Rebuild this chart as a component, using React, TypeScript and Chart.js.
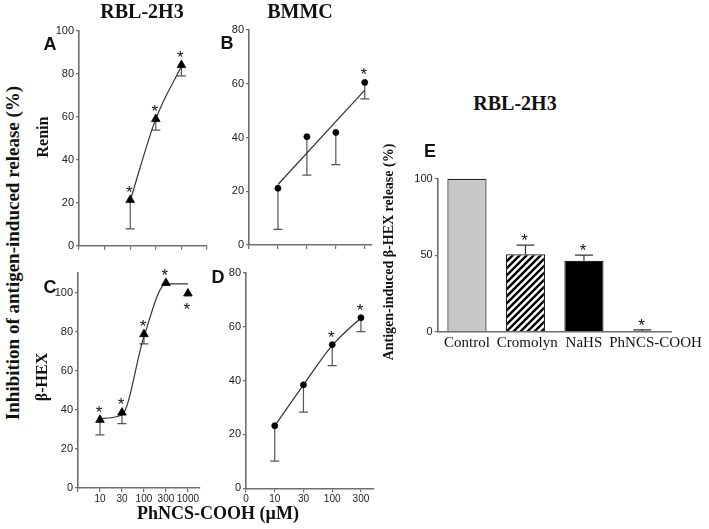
import React, { useEffect, useRef } from 'react';
import { Chart, registerables } from 'chart.js';
Chart.register(...registerables);

// ---- Panel A (RBL-2H3, Renin). x index: 1=10, 2=30, 3=100, 4=300, 5=1000 µM
const aX = [2, 3, 4];
const aY = [21.3, 58.9, 84.0];
const aErr = [13.5, 5.1, 5.0];
const aStar = ['above', 'above', 'above'];
const aFitX = [2, 3, 4];
const aFitY = [21.0, 59.0, 83.5];

// ---- Panel B (BMMC, Renin). x index: 1=10, 2=30, 3=100, 4=300 µM
const bX = [1, 2, 3, 4];
const bY = [21.1, 40.3, 41.9, 60.5];
const bErr = [15.3, 14.3, 12.0, 6.1];
const bStar = ['', '', '', 'above'];
const bFitX = [1, 4];
const bFitY = [22.5, 57.6];

// ---- Panel C (RBL-2H3, β-HEX)
const cX = [1, 2, 3, 4, 5];
const cY = [34.9, 38.6, 78.8, 105.0, 99.6];
const cErr = [7.7, 5.6, 5.0, 0, 0];
const cStar = ['above', 'above', 'above', 'above', 'below'];
const cFitX = [1, 2, 3, 4, 5];
const cFitY = [35.6, 37.5, 77.5, 104.5, 104.5];
const cTickLabels = ['', '10', '30', '100', '300', '1000'];

// ---- Panel D (BMMC, β-HEX)
const dX = [1, 2, 3, 4];
const dY = [23.2, 38.4, 53.3, 63.3];
const dErr = [13.1, 10.1, 7.8, 5.2];
const dStar = ['', '', 'above', 'above'];
const dFitX = [1, 2, 3, 4];
const dFitY = [23.2, 38.4, 53.0, 63.3];
const dTickLabels = ['0', '10', '30', '100', '300'];

// ---- Panel E (RBL-2H3, bars)
const eCategories = ['Control', 'Cromolyn', 'NaHS', 'PhNCS-COOH'];
const eValues = [100, 50.6, 46.4, 0.5];
const eErr = [0, 6.0, 3.7, 0.7];
const eStar = ['', 'above', 'above', 'above'];

const SANS = '"Liberation Sans", Arial, sans-serif';
const SERIF = '"Liberation Serif", "Times New Roman", serif';
const AXIS = '#6e6e6e';
const TICKTXT = '#222';

const errStarPlugin = {
  id: 'errStar',
  beforeDatasetsDraw(chart: any) { drawErr(chart, 'before'); },
  afterDatasetsDraw(chart: any) { drawErr(chart, 'after'); drawStars(chart); },
};

// category labels of panel E: centred under each bar, nudged right only if they would collide
const catLabelPlugin = {
  id: 'catLabels',
  afterDraw(chart: any) {
    const xs = chart.scales.x;
    const ctx = chart.ctx;
    ctx.save();
    ctx.font = '15px ' + SERIF;
    ctx.fillStyle = '#111';
    ctx.textAlign = 'left';
    ctx.textBaseline = 'top';
    let prevRight = -Infinity;
    (chart.data.labels as string[]).forEach((lab, i) => {
      const w = ctx.measureText(lab).width;
      let left = xs.getPixelForTick(i) - w / 2;
      if (left < prevRight + 7) left = prevRight + 7;
      ctx.fillText(lab, left, xs.top + 4);
      prevRight = left + w;
    });
    ctx.restore();
  },
};

function valOf(d: any) { return typeof d === 'object' && d !== null ? d.y : d; }

function drawErr(chart: any, phase: string) {
  const ctx = chart.ctx;
  const ys = chart.scales.y;
  chart.data.datasets.forEach((ds: any, di: number) => {
    if (!ds.errors || (ds.errPhase || 'before') !== phase) return;
    const meta = chart.getDatasetMeta(di);
    ctx.save();
    ctx.strokeStyle = ds.errColor || '#555';
    ctx.lineWidth = 1.2;
    meta.data.forEach((el: any, i: number) => {
      const e = ds.errors[i];
      if (!e) return;
      const v = valOf(ds.data[i]);
      const end = ds.errDir === 'up' ? v + e : v - e;
      const y0 = ys.getPixelForValue(v);
      const y1 = ys.getPixelForValue(end);
      const x = el.x;
      const cap = ds.capHalf || 4.5;
      ctx.beginPath();
      ctx.moveTo(x, y0);
      ctx.lineTo(x, y1);
      ctx.moveTo(x - cap, y1);
      ctx.lineTo(x + cap, y1);
      ctx.stroke();
    });
    ctx.restore();
  });
}

function drawStars(chart: any) {
  const ctx = chart.ctx;
  const ys = chart.scales.y;
  chart.data.datasets.forEach((ds: any, di: number) => {
    if (!ds.stars) return;
    const meta = chart.getDatasetMeta(di);
    ctx.save();
    ctx.fillStyle = '#111';
    ctx.font = '17px ' + SANS;
    ctx.textAlign = 'center';
    ctx.textBaseline = 'alphabetic';
    meta.data.forEach((el: any, i: number) => {
      const s = ds.stars[i];
      if (!s) return;
      const v = valOf(ds.data[i]);
      let cy;
      if (ds.errDir === 'up') {
        const top = ys.getPixelForValue(v + (ds.errors[i] || 0));
        cy = top - (ds.starGap || 9);
      } else {
        const py = ys.getPixelForValue(v);
        cy = s === 'below' ? py + (ds.starGap || 12) : py - (ds.starGap || 12);
      }
      ctx.fillText('*', el.x - 1, cy + 17 * 0.58);
    });
    ctx.restore();
  });
}

type Rect = { left: number; top: number; width: number; height: number };
type Area = { l: number; t: number; r: number; b: number };

function geometry(rect: Rect, area: Area) {
  return {
    yw: area.l - rect.left,
    padTop: area.t - rect.top,
    padRight: rect.left + rect.width - area.r,
    xh: rect.top + rect.height - area.b,
  };
}

function lineConfig(opts: {
  rect: Rect; area: Area;
  xs: number[]; ys: number[]; errs: number[]; stars: string[];
  fitX: number[]; fitY: number[]; fitMode: string;
  xMax: number; xTicks: number[]; xLabels: string[];
  yMax: number; yTicks: number[]; marker: string; radius: number;
}) {
  const g = geometry(opts.rect, opts.area);
  return {
    type: 'line',
    data: {
      datasets: [
        {
          data: opts.xs.map((x, i) => ({ x, y: opts.ys[i] })),
          showLine: false,
          pointStyle: opts.marker,
          pointRadius: opts.radius,
          pointHoverRadius: opts.radius,
          pointBackgroundColor: '#000',
          pointBorderColor: '#000',
          pointBorderWidth: 0.8,
          errors: opts.errs,
          errDir: 'down',
          errPhase: 'before',
          stars: opts.stars,
          clip: false,
        },
        {
          data: opts.fitX.map((x, i) => ({ x, y: opts.fitY[i] })),
          borderColor: '#333',
          borderWidth: 1.2,
          pointRadius: 0,
          fill: false,
          tension: opts.fitMode === 'straight' ? 0 : 0.4,
          cubicInterpolationMode: opts.fitMode === 'straight' ? 'default' : 'monotone',
          clip: false,
        },
      ],
    },
    options: {
      animation: false,
      responsive: false,
      devicePixelRatio: 1,
      events: [],
      layout: { padding: { top: g.padTop, right: g.padRight, left: 0, bottom: 0 } },
      plugins: { legend: { display: false }, tooltip: { enabled: false } },
      scales: {
        x: {
          type: 'linear',
          min: 0,
          max: opts.xMax,
          afterBuildTicks: (s: any) => { s.ticks = opts.xTicks.map((v) => ({ value: v })); },
          afterFit: (s: any) => { s.height = g.xh; },
          grid: { display: true, drawOnChartArea: false, drawTicks: true, tickLength: 4, color: AXIS, lineWidth: 1.2 },
          border: { display: true, color: AXIS, width: 1.6 },
          ticks: {
            padding: 1,
            maxRotation: 0,
            autoSkip: false,
            color: TICKTXT,
            font: { family: SANS, size: 10 },
            callback: (v: any) => opts.xLabels[v] ?? '',
          },
        },
        y: {
          type: 'linear',
          min: 0,
          max: opts.yMax,
          afterBuildTicks: (s: any) => { s.ticks = opts.yTicks.map((v) => ({ value: v })); },
          afterFit: (s: any) => { s.width = g.yw; },
          grid: { display: true, drawOnChartArea: false, drawTicks: true, tickLength: 3, color: AXIS, lineWidth: 1.2 },
          border: { display: true, color: AXIS, width: 1.6 },
          ticks: { padding: 2, color: TICKTXT, font: { family: SANS, size: 11 } },
        },
      },
    },
    plugins: [errStarPlugin],
  };
}

function makeHatch() {
  const c = document.createElement('canvas');
  const n = 7;
  c.width = n;
  c.height = n;
  const x = c.getContext('2d')!;
  x.fillStyle = '#fff';
  x.fillRect(0, 0, n, n);
  x.strokeStyle = '#000';
  x.lineWidth = 2.4;
  x.beginPath();
  x.moveTo(-1, n + 1); x.lineTo(n + 1, -1);
  x.moveTo(-1, 1); x.lineTo(1, -1);
  x.moveTo(n - 1, n + 1); x.lineTo(n + 1, n - 1);
  x.stroke();
  return x.createPattern(c, 'repeat');
}

function barConfig(rect: Rect, area: Area) {
  const g = geometry(rect, area);
  const hatch = makeHatch();
  return {
    type: 'bar',
    data: {
      labels: eCategories,
      datasets: [
        {
          data: eValues,
          backgroundColor: ['#c8c8c8', hatch, '#000', '#000'],
          borderColor: '#222',
          borderWidth: 1.2,
          barPercentage: 0.67,
          categoryPercentage: 1,
          errors: eErr,
          errDir: 'up',
          errPhase: 'after',
          errColor: '#333',
          capHalf: 9,
          stars: eStar,
          starGap: 9,
          clip: false,
        },
      ],
    },
    options: {
      animation: false,
      responsive: false,
      devicePixelRatio: 1,
      events: [],
      layout: { padding: { top: g.padTop, right: g.padRight, left: 0, bottom: 0 } },
      plugins: { legend: { display: false }, tooltip: { enabled: false } },
      scales: {
        x: {
          type: 'category',
          afterFit: (s: any) => { s.height = g.xh; },
          grid: { display: false },
          border: { display: true, color: AXIS, width: 1.6 },
          ticks: { display: false },
        },
        y: {
          type: 'linear',
          min: 0,
          max: 100,
          afterBuildTicks: (s: any) => { s.ticks = [0, 50, 100].map((v) => ({ value: v })); },
          afterFit: (s: any) => { s.width = g.yw; },
          grid: { display: true, drawOnChartArea: false, drawTicks: true, tickLength: 3, color: AXIS, lineWidth: 1.2 },
          border: { display: true, color: AXIS, width: 1.6 },
          ticks: { padding: 2, color: TICKTXT, font: { family: SANS, size: 11 } },
        },
      },
    },
    plugins: [errStarPlugin, catLabelPlugin],
  };
}

function ChartCanvas({ rect, build }: { rect: Rect; build: () => any }) {
  const ref = useRef<HTMLCanvasElement | null>(null);
  useEffect(() => {
    if (!ref.current) return;
    const chart = new Chart(ref.current, build());
    return () => chart.destroy();
  }, []);
  return (
    <canvas
      ref={ref}
      width={rect.width}
      height={rect.height}
      style={{ position: 'absolute', left: rect.left, top: rect.top, width: rect.width, height: rect.height }}
    />
  );
}

function Label({ x, y, text, size, rotate, family, bold }: any) {
  return (
    <div
      style={{
        position: 'absolute',
        left: x,
        top: y,
        transform: `translate(-50%, -50%)${rotate ? ' rotate(-90deg)' : ''}`,
        whiteSpace: 'nowrap',
        fontFamily: family || SERIF,
        fontWeight: bold === false ? 'normal' : 'bold',
        fontSize: size,
        lineHeight: 1,
        color: '#111',
      }}
    >
      {text}
    </div>
  );
}

const rectA = { left: 40, top: 18, width: 180, height: 240 };
const areaA = { l: 79, t: 30.7, r: 207, b: 245.7 };
const rectB = { left: 215, top: 18, width: 167, height: 240 };
const areaB = { l: 249, t: 30, r: 372, b: 245 };
const rectC = { left: 40, top: 262, width: 170, height: 242 };
const areaC = { l: 78, t: 273.2, r: 200, b: 488 };
const rectD = { left: 212, top: 262, width: 172, height: 242 };
const areaD = { l: 246, t: 272.7, r: 373.3, b: 488.3 };
const rectE = { left: 400, top: 165, width: 309, height: 205 };
const areaE = { l: 437.7, t: 178.7, r: 671.7, b: 331.7 };

export default function App() {
  return (
    <div style={{ position: 'absolute', left: 0, top: 0, width: 709, height: 529, background: '#fff', overflow: 'hidden' }}>
      <ChartCanvas
        rect={rectA}
        build={() => lineConfig({
          rect: rectA, area: areaA, xs: aX, ys: aY, errs: aErr, stars: aStar,
          fitX: aFitX, fitY: aFitY, fitMode: 'curve', xMax: 5, xTicks: [0, 1, 2, 3, 4, 5], xLabels: [],
          yMax: 100, yTicks: [0, 20, 40, 60, 80, 100], marker: 'triangle', radius: 5,
        })}
      />
      <ChartCanvas
        rect={rectB}
        build={() => lineConfig({
          rect: rectB, area: areaB, xs: bX, ys: bY, errs: bErr, stars: bStar,
          fitX: bFitX, fitY: bFitY, fitMode: 'straight', xMax: 4.25, xTicks: [0, 1, 2, 3, 4], xLabels: [],
          yMax: 80, yTicks: [0, 20, 40, 60, 80], marker: 'circle', radius: 3,
        })}
      />
      <ChartCanvas
        rect={rectC}
        build={() => lineConfig({
          rect: rectC, area: areaC, xs: cX, ys: cY, errs: cErr, stars: cStar,
          fitX: cFitX, fitY: cFitY, fitMode: 'curve', xMax: 5.55, xTicks: [0, 1, 2, 3, 4, 5], xLabels: cTickLabels,
          yMax: 110, yTicks: [0, 20, 40, 60, 80, 100], marker: 'triangle', radius: 5,
        })}
      />
      <ChartCanvas
        rect={rectD}
        build={() => lineConfig({
          rect: rectD, area: areaD, xs: dX, ys: dY, errs: dErr, stars: dStar,
          fitX: dFitX, fitY: dFitY, fitMode: 'curve', xMax: 4.43, xTicks: [0, 1, 2, 3, 4], xLabels: dTickLabels,
          yMax: 80, yTicks: [0, 20, 40, 60, 80], marker: 'circle', radius: 3,
        })}
      />
      <ChartCanvas rect={rectE} build={() => barConfig(rectE, areaE)} />

      <Label x={142} y={11} text="RBL-2H3" size={20} />
      <Label x={300} y={11} text="BMMC" size={20} />
      <Label x={515} y={103} text="RBL-2H3" size={20} />
      <Label x={12} y={253} text="Inhibition of antigen-induced release (%)" size={19} rotate />
      <Label x={43} y={137} text="Renin" size={16} rotate />
      <Label x={42} y={377} text="β-HEX" size={16} rotate />
      <Label x={218} y={513} text="PhNCS-COOH (µM)" size={18} />
      <Label x={389} y={252} text="Antigen-induced β-HEX release (%)" size={14} rotate />
      <Label x={50} y={44} text="A" size={18} family={SANS} />
      <Label x={227} y={43} text="B" size={18} family={SANS} />
      <Label x={50} y={287} text="C" size={18} family={SANS} />
      <Label x={218} y={277} text="D" size={18} family={SANS} />
      <Label x={430} y={151} text="E" size={18} family={SANS} />
    </div>
  );
}
